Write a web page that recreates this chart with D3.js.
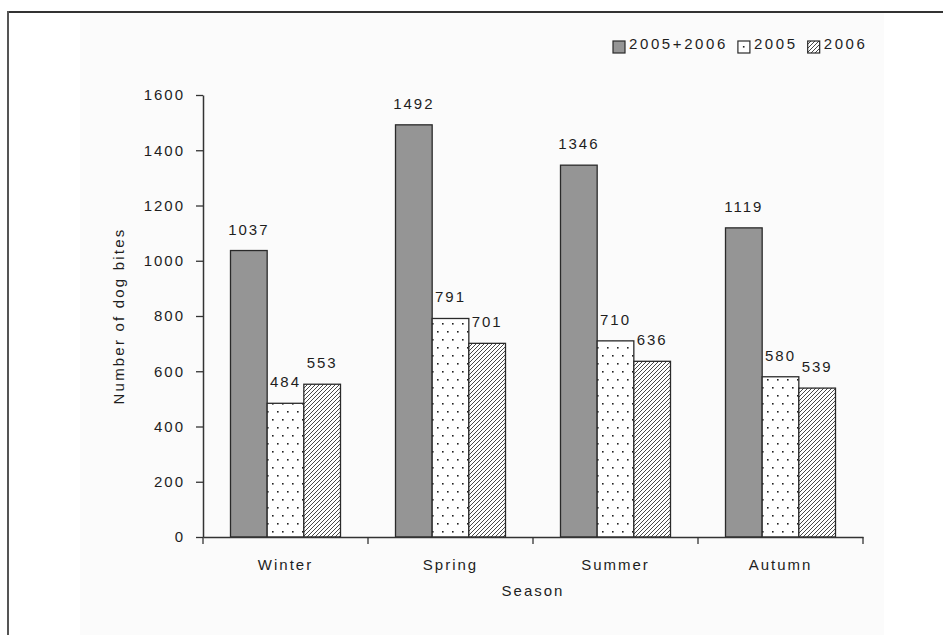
<!DOCTYPE html>
<html>
<head>
<meta charset="utf-8">
<script src="https://cdn.jsdelivr.net/npm/d3@7"></script>
<style>
body { margin: 0; background: #fff; }
text { font-family: "Liberation Sans", Arial, sans-serif; fill: #1e1e1e; }
</style>
</head>
<body>
<div id="chart"></div>
<script>
var seasons = ["Winter", "Spring", "Summer", "Autumn"];
var seriesNames = ["2005+2006", "2005", "2006"];
var both = [1037, 1492, 1346, 1119];
var y2005 = [484, 791, 710, 580];
var y2006 = [553, 701, 636, 539];
var yTicks = [0, 200, 400, 600, 800, 1000, 1200, 1400, 1600];

var seriesValues = [both, y2005, y2006];
var fills = ["#959595", "url(#dots)", "url(#hatch)"];

var W = 943, H = 635;
var svg = d3.select("#chart").append("svg").attr("width", W).attr("height", H);

var defs = svg.append("defs");
var dots = defs.append("pattern").attr("id", "dots").attr("patternUnits", "userSpaceOnUse")
.attr("width", 10).attr("height", 16);
dots.append("rect").attr("width", 10).attr("height", 16).attr("fill", "#fff");
dots.append("rect").attr("x", 2).attr("y", 3).attr("width", 1.6).attr("height", 1.6).attr("fill", "#222");
dots.append("rect").attr("x", 7).attr("y", 11).attr("width", 1.6).attr("height", 1.6).attr("fill", "#222");
var hatch = defs.append("pattern").attr("id", "hatch").attr("patternUnits", "userSpaceOnUse")
.attr("width", 4).attr("height", 4);
hatch.append("rect").attr("width", 4).attr("height", 4).attr("fill", "#fff");
hatch.append("path").attr("d", "M-1,1 l2,-2 M0,4 l4,-4 M3,5 l2,-2")
.attr("stroke", "#333").attr("stroke-width", 0.9);

// faint panel + frame lines
svg.append("rect").attr("x", 80).attr("y", 12).attr("width", 804).attr("height", H - 12).attr("fill", "#fbfbfb");
svg.append("line").attr("x1", 8).attr("x2", W).attr("y1", 12).attr("y2", 12)
.attr("stroke", "#333").attr("stroke-width", 2);
svg.append("line").attr("x1", 8).attr("x2", 8).attr("y1", 11).attr("y2", H)
.attr("stroke", "#555").attr("stroke-width", 2);

var x = d3.scaleBand().domain(seasons).range([203, 863]).padding(0);
var xs = d3.scaleBand().domain(seriesNames).range([27.5, x.bandwidth() - 27.5]).padding(0);
var y = d3.scaleLinear().domain([0, 1600]).range([537, 95]);

// bars
seriesNames.forEach(function(s, si) {
  var g = svg.append("g").attr("class", "serie");
  g.selectAll("rect")
  .data(seriesValues[si])
  .enter().append("rect")
  .attr("x", function(d, i) { return x(seasons[i]) + xs(s); })
  .attr("y", function(d) { return y(d); })
  .attr("width", xs.bandwidth())
  .attr("height", function(d) { return y(0) - y(d); })
  .attr("fill", fills[si])
  .attr("stroke", "#2a2a2a")
  .attr("stroke-width", 1.3);
  g.selectAll("text")
  .data(seriesValues[si])
  .enter().append("text")
  .attr("x", function(d, i) { return x(seasons[i]) + xs(s) + xs.bandwidth() / 2; })
  .attr("y", function(d) { return y(d) - 16; })
  .attr("text-anchor", "middle")
  .style("font-size", "15px")
  .style("letter-spacing", "2px")
  .text(function(d) { return d; });
});

// y axis
var yAxis = svg.append("g").attr("transform", "translate(203,0)")
.call(d3.axisLeft(y).tickValues(yTicks).tickFormat(d3.format("d")).tickSize(7).tickSizeOuter(0).tickPadding(11));
yAxis.selectAll("text").style("font-size", "15px").style("letter-spacing", "2px").attr("fill", "#1e1e1e")
.style("font-family", "'Liberation Sans', Arial, sans-serif");
yAxis.selectAll("line").attr("stroke", "#333").attr("stroke-width", 1.3);
yAxis.select(".domain").attr("stroke", "#333").attr("stroke-width", 1.5);

// x axis
var xAxis = svg.append("g").attr("transform", "translate(0,537)")
.call(d3.axisBottom(x).tickSize(0).tickSizeOuter(0).tickPadding(22));
xAxis.selectAll("text").style("font-size", "15px").style("letter-spacing", "2px").attr("fill", "#1e1e1e")
.style("font-family", "'Liberation Sans', Arial, sans-serif");
xAxis.select(".domain").attr("stroke", "#333").attr("stroke-width", 1.5);
var edges = seasons.map(function(d) { return x(d); }).concat([x(seasons[seasons.length - 1]) + x.bandwidth()]);
xAxis.selectAll(".edge").data(edges).enter().append("line").attr("class", "edge")
.attr("x1", function(d) { return d; }).attr("x2", function(d) { return d; })
.attr("y1", 0).attr("y2", 7).attr("stroke", "#333").attr("stroke-width", 1.3);

// axis titles
svg.append("text").attr("x", 533).attr("y", 596).attr("text-anchor", "middle")
.style("font-size", "15px").style("letter-spacing", "2px").text("Season");
svg.append("text").attr("transform", "translate(124,316) rotate(-90)").attr("text-anchor", "middle")
.style("font-size", "15px").style("letter-spacing", "2.2px").text("Number of dog bites");

// legend
var lx = 613;
seriesNames.forEach(function(s, si) {
  var item = svg.append("g").attr("class", "legend");
  item.append("rect").attr("x", lx).attr("y", 41).attr("width", 12).attr("height", 12)
  .attr("fill", si == 1 ? "#fff" : fills[si]).attr("stroke", "#2a2a2a").attr("stroke-width", 1.2);
  if (si == 1) item.append("rect").attr("x", lx + 5).attr("y", 46).attr("width", 1.6).attr("height", 1.6).attr("fill", "#222");
  var t = item.append("text").attr("x", lx + 16).attr("y", 49)
  .style("font-size", "15px").style("letter-spacing", "2.6px").text(s);
  lx = lx + 16 + t.node().getComputedTextLength() + 10;
});
</script>
</body>
</html>
